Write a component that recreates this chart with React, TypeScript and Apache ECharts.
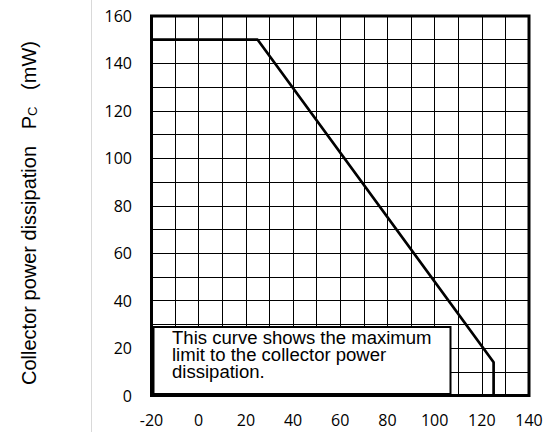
import React, { useEffect, useRef } from "react";
import * as echarts from "echarts";

const curveTemps = [-20, 25, 125, 125];
const curvePower = [150, 150, 14, 0];
const xTickLabels = [-20, 0, 20, 40, 60, 80, 100, 120, 140];
const yTickLabels = [0, 20, 40, 60, 80, 100, 120, 140, 160];
const yTitleMain = "Collector power dissipation   P";
const yTitleSub = "C";
const yTitleUnit = "   (mW)";
const noteLines = [
  "This curve shows the maximum",
  "limit to the collector power",
  "dissipation.",
];

export default function App() {
  const ref = useRef<HTMLDivElement>(null);
  useEffect(() => {
    if (!ref.current) return;
    const chart = echarts.init(ref.current, null, { renderer: "svg" });
    const tickFont = "Open Sans";
    const textFont = "Liberation Sans";
    chart.setOption({
      animation: false,
      backgroundColor: "#fff",
      grid: {
        left: 151.5,
        right: 22,
        top: 16,
        bottom: 36.5,
        show: true,
        borderColor: "#000",
        borderWidth: 3,
        backgroundColor: "transparent",
      },
      xAxis: {
        type: "value",
        min: -20,
        max: 140,
        interval: 10,
        axisLine: { show: false },
        axisTick: { show: false },
        splitLine: { show: true, lineStyle: { color: "#000", width: 1 } },
        axisLabel: {
          margin: 16,
          fontFamily: tickFont,
          fontSize: 16,
          color: "#000",
          formatter: (v: number) => (xTickLabels.includes(v) ? String(v) : ""),
        },
      },
      yAxis: {
        type: "value",
        min: 0,
        max: 160,
        interval: 10,
        axisLine: { show: false },
        axisTick: { show: false },
        splitLine: { show: true, lineStyle: { color: "#000", width: 1 } },
        axisLabel: {
          margin: 19.5,
          fontFamily: tickFont,
          fontSize: 16,
          color: "#000",
          formatter: (v: number) => (yTickLabels.includes(v) ? String(v) : ""),
        },
      },
      series: [
        {
          type: "line",
          data: curveTemps.map((t, i) => [t, curvePower[i]]),
          showSymbol: false,
          lineStyle: { color: "#000", width: 2.7 },
          z: 5,
        },
      ],
      graphic: [
        {
          type: "line",
          shape: { x1: 91.5, y1: 0, x2: 91.5, y2: 432 },
          style: { stroke: "#d9d9d9", lineWidth: 1 },
          silent: true,
        },
        {
          type: "text",
          x: 27,
          y: 213,
          rotation: Math.PI / 2,
          style: {
            text: `{a|${yTitleMain}}{s|${yTitleSub}}{a|${yTitleUnit}}`,
            align: "center",
            verticalAlign: "middle",
            fill: "#000",
            rich: {
              a: { fontFamily: textFont, fontSize: 20, fill: "#000", lineHeight: 24, verticalAlign: "bottom" },
              s: { fontFamily: textFont, fontSize: 13, fill: "#000", lineHeight: 24, verticalAlign: "bottom" },
            },
          },
          silent: true,
        },
        {
          type: "rect",
          shape: { x: 153.5, y: 327, width: 297, height: 67 },
          style: { fill: "#fff", stroke: "#000", lineWidth: 2 },
          z: 10,
          silent: true,
        },
        {
          type: "text",
          x: 172,
          y: 330,
          scaleX: 1.06,
          style: {
            text: noteLines.join("\n"),
            fontFamily: textFont,
            fontSize: 17.5,
            lineHeight: 17,
            fill: "#000",
            align: "left",
            verticalAlign: "top",
          },
          z: 11,
          silent: true,
        },
      ],
    });
    return () => chart.dispose();
  }, []);
  return (
    <div
      ref={ref}
      style={{ position: "absolute", left: 0, top: 0, width: 551, height: 432 }}
    />
  );
}
